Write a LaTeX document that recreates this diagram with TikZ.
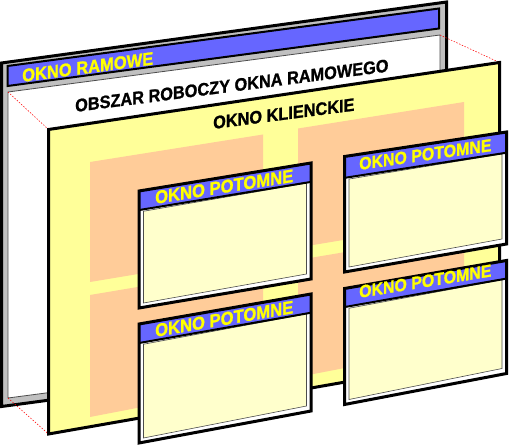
\documentclass[tikz,border=0pt]{standalone}
\usepackage{fontspec}
\setmainfont{Liberation Sans}[BoldFeatures={FakeBold=1.2}]
\usetikzlibrary{calc}
\definecolor{barblue}{HTML}{6666FF}
\definecolor{framegray}{HTML}{C0C0C0}
\definecolor{clientyellow}{HTML}{FFFF99}
\definecolor{orangefill}{HTML}{FFCC99}
\definecolor{childyellow}{HTML}{FFFFCC}
\definecolor{titleyellow}{HTML}{FFFF00}

\newcommand\childwin[6]{%
  \coordinate (#1TL) at (#2);
  \coordinate (#1TR) at (#3);
  \coordinate (#1BR) at (#4);
  \coordinate (#1BL) at (#5);
  \coordinate (#1bl) at ($(#1TL)!#6!(#1BL)$);
  \coordinate (#1br) at ($(#1TR)!#6!(#1BR)$);
  \fill[white] (#1TL) -- (#1TR) -- (#1BR) -- (#1BL) -- cycle;
  \fill[barblue] (#1TL) -- (#1TR) -- (#1br) -- (#1bl) -- cycle;
  \filldraw[fill=childyellow, innerline] ($(#1bl)+(4.5,1.2)$) -- ($(#1br)+(-4.5,1.2)$) -- ($(#1BR)+(-4.5,-5)$) -- ($(#1BL)+(4.5,-5)$) -- cycle;
  \draw[barline] (#1bl) -- (#1br);
  \draw[outline] (#1TL) -- (#1TR) -- (#1BR) -- (#1BL) -- cycle;
}

\begin{document}
\begin{tikzpicture}[x=1pt,y=-1pt,line join=miter,
  outline/.style={draw=black, line width=3pt},
  barline/.style={draw=black, line width=2pt},
  innerline/.style={draw=black!70, line width=0.6pt},
  whiteline/.style={draw=black!70, line width=0.8pt},
  proj/.style={draw=red, line width=0.5pt, dash pattern=on 1.5pt off 1.5pt},
  titletext/.style={text=titleyellow, font=\bfseries\fontsize{#1}{#1}\selectfont, inner sep=0pt, anchor=base west},
  bodytext/.style={text=black, font=\bfseries\fontsize{#1}{#1}\selectfont, inner sep=0pt, anchor=base west}]
\useasboundingbox (0,0) rectangle (512,446);

% frame window
\coordinate (fTL) at (1.5,63);
\coordinate (fTR) at (446.5,2);
\coordinate (fBR) at (446.5,347);
\coordinate (fBL) at (1.5,406.5);
\filldraw[fill=framegray, outline] (fTL) -- (fTR) -- (fBR) -- (fBL) -- cycle;
\coordinate (bTL) at (7.5,66);
\coordinate (bTR) at (439,8.5);
\coordinate (bBR) at (439,28.5);
\coordinate (bBL) at (7.5,86);
\filldraw[fill=barblue, barline] (bTL) -- (bTR) -- (bBR) -- (bBL) -- cycle;
\coordinate (wTL) at (8,92);
\coordinate (wTR) at (440,35);
\coordinate (wBR) at (440,341);
\coordinate (wBL) at (8,398);
\filldraw[fill=white, whiteline] (wTL) -- (wTR) -- (wBR) -- (wBL) -- cycle;
\node[titletext=16.5, yslant=0.133, yscale=1.1] (framettl) at (22,82) {OKNO RAMOWE};
\node[bodytext=16.3, yslant=0.129, yscale=1.1] (worktxt) at (75,112) {OBSZAR ROBOCZY OKNA RAMOWEGO};

% client window
\coordinate (cTL) at (48.5,129.5);
\coordinate (cTR) at (499.5,62.5);
\coordinate (cBR) at (499.5,355);
\coordinate (cBL) at (48.5,434);
\draw[proj] (wTL) -- (cTL);
\draw[proj] (wTR) -- (cTR);
\draw[proj] (wBL) -- (cBL);
\filldraw[fill=clientyellow, outline] (cTL) -- (cTR) -- (cBR) -- (cBL) -- cycle;
\fill[orangefill] (90,162) -- (263,134.5) -- (263,253.3) -- (90,282) -- cycle;
\fill[orangefill] (298,128.5) -- (464,102) -- (464,220) -- (298,247.5) -- cycle;
\fill[orangefill] (90,295) -- (263,265.9) -- (263,383.7) -- (90,417) -- cycle;
\fill[orangefill] (298,260) -- (464,232) -- (464,345) -- (298,377) -- cycle;
\node[bodytext=16.3, yslant=0.13, yscale=1.1] (clienttxt) at (213,129) {OKNO KLIENCKIE};

% child windows
\childwin{ca}{139,191}{311,163}{311,279}{139,308}{0.163}
\node[titletext=16.6, yslant=0.16, yscale=1.1] (catxt) at (155,204) {OKNO POTOMNE};
\childwin{cb}{344.5,156.5}{506.5,132}{506.5,244}{344.5,272}{0.185}
\node[titletext=15.9, yslant=0.143, yscale=1.1] (cbtxt) at (359,170) {OKNO POTOMNE};
\childwin{cc}{139,324}{311,294}{311,411}{139,443}{0.16}
\node[titletext=16.6, yslant=0.172, yscale=1.1] (cctxt) at (155,337) {OKNO POTOMNE};
\childwin{cd}{344.5,288.5}{506.5,260.5}{506.5,373.5}{344.5,404.5}{0.16}
\node[titletext=15.9, yslant=0.163, yscale=1.1] (cdtxt) at (359,298) {OKNO POTOMNE};
\end{tikzpicture}
\end{document}
